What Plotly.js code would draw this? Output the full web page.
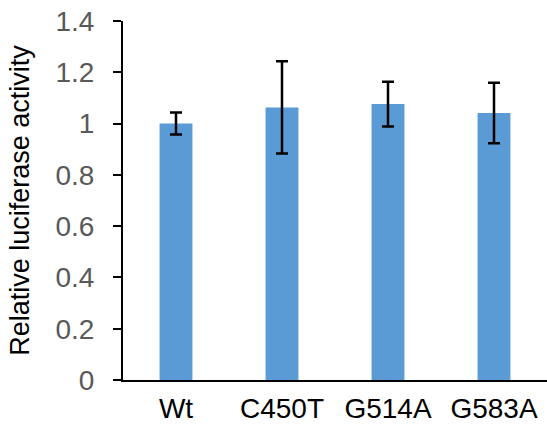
<!DOCTYPE html>
<html>
<head>
<meta charset="utf-8">
<script src="https://cdn.plot.ly/plotly-3.0.1.min.js"></script>
<style>html,body{margin:0;padding:0;background:#fff}#chart{width:547px;height:424px}</style>
</head>
<body>
<div id="chart"></div>
<script>
const categories = ["Wt", "C450T", "G514A", "G583A"];
const activity = [1.0, 1.063, 1.076, 1.041];
const errors = [0.043, 0.18, 0.087, 0.118];
const yTickValues = [0, 0.2, 0.4, 0.6, 0.8, 1, 1.2, 1.4];
const yTickLabels = ["0", "0.2", "0.4", "0.6", "0.8", "1", "1.2", "1.4"];

const trace = {
  type: "bar",
  x: categories,
  y: activity,
  width: 0.31,
  marker: {color: "#5B9BD5"},
  error_y: {type: "data", array: errors, visible: true, color: "#000000", thickness: 2.5, width: 6}
};

const layout = {
  width: 547, height: 424,
  margin: {l: 123, r: 0, t: 21, b: 44},
  paper_bgcolor: "#ffffff", plot_bgcolor: "#ffffff",
  showlegend: false,
  font: {family: "Liberation Sans, Arial, sans-serif"},
  xaxis: {
    type: "category",
    range: [-0.5, 3.5],
    showline: true, linecolor: "#000000", linewidth: 2,
    ticks: "", showgrid: false, zeroline: false,
    tickfont: {size: 28, color: "#000000"},
    ticklabelstandoff: 2
  },
  yaxis: {
    range: [0, 1.4],
    tickvals: yTickValues, ticktext: yTickLabels,
    showline: true, linecolor: "#000000", linewidth: 2,
    ticks: "outside", ticklen: 8, tickwidth: 2, tickcolor: "#000000",
    showgrid: false, zeroline: false,
    tickfont: {size: 28, color: "#595959"},
    ticklabelstandoff: 13,
    title: {text: "Relative luciferase activity", font: {size: 27, color: "#000000"}, standoff: 18}
  }
};

Plotly.newPlot("chart", [trace], layout, {displayModeBar: false, staticPlot: true});
</script>
</body>
</html>
